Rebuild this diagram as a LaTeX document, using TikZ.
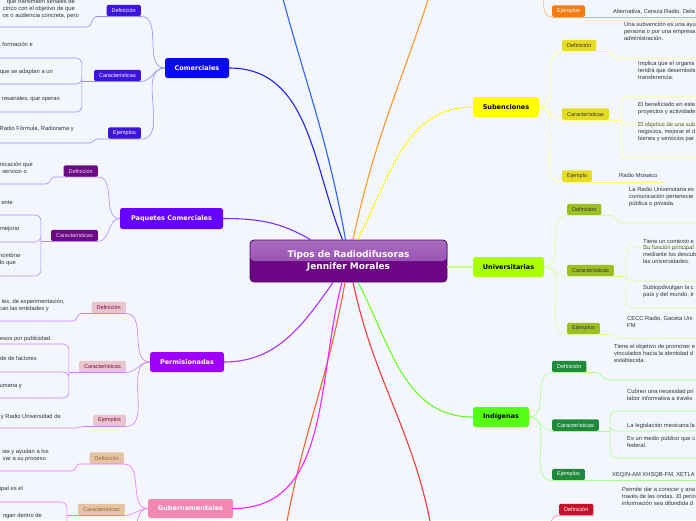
\documentclass[tikz,border=0pt]{standalone}
\usepackage{fontspec}
\setmainfont{Liberation Sans}
\newfontfamily\dejavu{DejaVu Sans}
\usepackage{tikz}
\usetikzlibrary{positioning}
\usepackage{xcolor}

\definecolor{bgblue}{HTML}{F3F6FD}
\definecolor{notegray}{HTML}{333333}
\definecolor{rootdark}{HTML}{6C0684}
\definecolor{roottop}{HTML}{A86CC0}
\definecolor{rootmid}{HTML}{8C3CA8}
\definecolor{rootedge}{HTML}{4C0A60}
% branch fills
\definecolor{comblue}{HTML}{0A0AEE}
\definecolor{paqviolet}{HTML}{6600FF}
\definecolor{perpurple}{HTML}{A000F8}
\definecolor{gubpink}{HTML}{F288B0}
\definecolor{subyellow}{HTML}{FFFF00}
\definecolor{unilime}{HTML}{AAFF00}
\definecolor{indgreen}{HTML}{55FF11}
% trunk lines
\definecolor{comline}{HTML}{2222EE}
\definecolor{topblue}{HTML}{2A64FF}
\definecolor{orline}{HTML}{FF9A28}
\definecolor{subline}{HTML}{FFFF22}
\definecolor{uniline}{HTML}{CCFF77}
\definecolor{indline}{HTML}{66FF22}
\definecolor{redline}{HTML}{F03C3C}
\definecolor{orredline}{HTML}{FF6030}
\definecolor{gubline}{HTML}{FF22FF}
\definecolor{perline}{HTML}{AA33FF}
\definecolor{paqline}{HTML}{7A33FF}
% leaf fills
\definecolor{comleaf}{HTML}{3C14DC}
\definecolor{paqleaf}{HTML}{6C0A84}
\definecolor{perleaf}{HTML}{E8C6CC}
\definecolor{gubleaf}{HTML}{E4C4A4}
\definecolor{subleaf}{HTML}{E6DC22}
\definecolor{unileaf}{HTML}{9DBF24}
\definecolor{indleaf}{HTML}{1F8A3C}
\definecolor{orleaf}{HTML}{F07C12}
\definecolor{redleaf}{HTML}{C4102A}
% twig lines
\definecolor{comtwig}{HTML}{8F8FFF}
\definecolor{paqtwig}{HTML}{B08CFF}
\definecolor{pertwig}{HTML}{CC80FF}
\definecolor{gubtwig}{HTML}{F070FF}
\definecolor{subtwig}{HTML}{FFFF80}
\definecolor{unitwig}{HTML}{D8FF90}
\definecolor{indtwig}{HTML}{A8FF80}
\definecolor{ortwig}{HTML}{FFB060}
\definecolor{redtwig}{HTML}{FF8A9A}

\tikzset{
  rootbox/.style={rounded corners=4pt, fill=rootdark, draw=rootedge, line width=0.8pt,
    text=white, font=\dejavu\bfseries\fontsize{9}{12}\selectfont, align=center,
    minimum width=197pt, minimum height=42pt, inner sep=0pt,
    path picture={\fill[top color=roottop, bottom color=rootmid]
      (path picture bounding box.north west) rectangle (path picture bounding box.east);}},
  branch/.style={rounded corners=2.5pt, text=white, inner sep=0pt, minimum height=20pt,
    font=\dejavu\bfseries\fontsize{6.5}{7}\selectfont},
  leaf/.style={rounded corners=1.5pt, inner xsep=5pt, inner ysep=0pt, minimum height=11.5pt,
    font=\fontsize{5.5}{6}\selectfont},
  note/.style={inner sep=0pt, align=left, text=notegray, font=\fontsize{5.8}{7}\selectfont},
  trunk/.style={line width=1.1pt},
  twig/.style={line width=0.6pt}
}

\begin{document}
\begin{tikzpicture}[x=1pt,y=-1pt]
    \useasboundingbox (0,0) rectangle (696,520);
    \fill[bgblue] (0,0) rectangle (696,520);

    % centre and main branches
    \node[rootbox] (root) at (348.5,261) {Tipos de Radiodifusoras\\Jennifer Morales};
    \node[branch, fill=comblue, minimum width=64pt] (com) at (197,68) {Comerciales};
    \node[branch, fill=paqviolet, minimum width=103pt, minimum height=21pt] (paq) at (171.5,218.5) {Paquetes Comerciales};
    \node[branch, fill=perpurple, minimum width=74pt] (per) at (187,362) {Permisionadas};
    \node[branch, fill=gubpink, minimum width=85pt, minimum height=19pt] (gub) at (190.5,508.5) {Gubernamentales};
    \node[branch, fill=subyellow, text=black, minimum width=66pt] (sub) at (506,107) {Subenciones};
    \node[branch, fill=unilime, text=black, minimum width=71pt] (uni) at (508.5,267) {Universitarias};
    \node[branch, fill=indgreen, text=black, minimum width=56pt] (ind) at (501,417) {Indígenas};

    % free ends of branches leaving the page
    \coordinate (bluetop) at (280,-12);
    \coordinate (orangetop) at (432,-12);
    \coordinate (redbot) at (432,532);
    \coordinate (orredbot) at (285,532);
    \coordinate (orpar) at (544,-10);
    \coordinate (redpar) at (549,535);
    \coordinate (gubmore) at (125,545);

    % leaves, left side
    \node[leaf, fill=comleaf, text=white, anchor=east] (comdef) at (141,10.5) {Definición};
    \node[leaf, fill=comleaf, text=white, anchor=east] (comcar) at (141,75.5) {Características};
    \node[leaf, fill=comleaf, text=white, anchor=east] (comej) at (141,133) {Ejemplos};
    \node[leaf, fill=paqleaf, text=white!85!violet, anchor=east] (paqdef) at (98,171) {Definición};
    \node[leaf, fill=paqleaf, text=white!85!violet, anchor=east] (paqcar) at (98,235.5) {Características};
    \node[leaf, fill=perleaf, text=rootedge!70!red, anchor=east] (perdef) at (126,307.5) {Definición};
    \node[leaf, fill=perleaf, text=rootedge!70!red, anchor=east] (percar) at (126,366.5) {Características};
    \node[leaf, fill=perleaf, text=rootedge!70!red, anchor=east] (perej) at (126,420.5) {Ejemplos};
    \node[leaf, fill=gubleaf, text=brown!80!black, anchor=east] (gubdef) at (124,458) {Definición};
    \node[leaf, fill=gubleaf, text=brown!80!black, anchor=east] (gubcar) at (125,509.5) {Características};

    % leaves, right side
    \node[leaf, fill=orleaf, text=white, anchor=west] (orej) at (552,11) {Ejemplos};
    \node[leaf, fill=subleaf, text=notegray, anchor=west] (subdef) at (562,45.5) {Definición};
    \node[leaf, fill=subleaf, text=notegray, anchor=west] (subcar) at (562,114) {Características};
    \node[leaf, fill=subleaf, text=notegray, anchor=west] (subej) at (562,176) {Ejemplo};
    \node[leaf, fill=unileaf, text=notegray, anchor=west] (unidef) at (567,209.5) {Definición};
    \node[leaf, fill=unileaf, text=notegray, anchor=west] (unicar) at (567,270.5) {Características};
    \node[leaf, fill=unileaf, text=notegray, anchor=west] (uniej) at (567,328.5) {Ejemplos};
    \node[leaf, fill=indleaf, text=white, anchor=west] (inddef) at (552,366.5) {Definición};
    \node[leaf, fill=indleaf, text=white, anchor=west] (indcar) at (552,425) {Características};
    \node[leaf, fill=indleaf, text=white, anchor=west] (indej) at (552,474.5) {Ejemplos};
    \node[leaf, fill=redleaf, text=white, anchor=west] (reddef) at (559,509.5) {Definición};

    % notes, left side (cut by the page edge)
    \node[note, anchor=base east] (comdefa) at (75,3) {que transmiten señales de};
    \node[note, anchor=base east] (comdefb) at (75,10) {ctrico con el objetivo de que};
    \node[note, anchor=base east] (comdefc) at (79,17) {os o audiencia concreta, pero};
    \node[note, anchor=base east] (comcara) at (33,46) {, formación e};
    \node[note, anchor=base east] (comcarb) at (53,73) {que se adaptan a un};
    \node[note, anchor=base east] (comcarc) at (60,100) {resariales, que operan};
    \node[note, anchor=base east] (comeja) at (74,130) {Radio Fórmula, Radiorama y};
    \node[note, anchor=base east] (paqdefa) at (33,166) {nicación que};
    \node[note, anchor=base east] (paqdefb) at (27,173) {servicio o};
    \node[note, anchor=base east] (paqcara) at (13,204) {ente};
    \node[note, anchor=base east] (paqcarb) at (20,230) {mejorar};
    \node[note, anchor=base east] (paqcarc) at (21,257) {nombrar};
    \node[note, anchor=base east] (paqcard) at (16,264) {do que};
    \node[note, anchor=base east] (perdefa) at (65,303) {les, de experimentación,};
    \node[note, anchor=base east] (perdefb) at (49,310) {can las entidades y};
    \node[note, anchor=base east] (percara) at (52,340) {esos por publicidad.};
    \node[note, anchor=base east] (percarb) at (37,360) {de de factores};
    \node[note, anchor=base east] (percarc) at (22,387) {umana y};
    \node[note, anchor=base east] (pereja) at (61,418) {s y Radio Universidad de};
    \node[note, anchor=base east] (gubdefa) at (49,453) {ias y ayudan a los};
    \node[note, anchor=base east] (gubdefb) at (46,460) {var a su proceso};
    \node[note, anchor=base east] (gubcara) at (23,490) {ipal es el};
    \node[note, anchor=base east] (gubcarb) at (42,517) {ngan dentro de};

    % notes, right side
    \node[note, anchor=base west] (orejt) at (613,13) {Alternativa, Cereza Radio. Dela};
    \node[note, anchor=base west] (subdeft) at (624,40) {Una subvención es una ayu\\persona o por una empresa\\administración.};
    \node[note, anchor=base west] (subcart1) at (638,79) {Implica que el organis\\tendrá que desembols\\transferencia.};
    \node[note, anchor=base west] (subcart2) at (638,113) {El beneficiado en este\\proyectos y actividade};
    \node[note, anchor=base west] (subcart3) at (638,140) {El objetivo de una sub\\negocios, mejorar el d\\bienes y servicios par};
    \node[note, anchor=base west] (subejt) at (619,177) {Radio Mosaico};
    \node[note, anchor=base west] (unideft) at (629,205) {La Radio Universitaria es\\comunicación pertenecie\\pública o privada.};
    \node[note, anchor=base west] (unicart1) at (643,243) {Tiene un contexto e};
    \node[note, anchor=base west] (unicart2) at (643,263) {Su función principal\\mediante los descub\\las universidades.};
    \node[note, anchor=base west] (unicart3) at (643,296) {Subtopdivulgan la c\\país y del mundo, tr};
    \node[note, anchor=base west] (uniejt) at (627,327) {CECC Radio, Gaceta Uni\\FM};
    \node[note, anchor=base west] (inddeft) at (614,362) {Tiene el objetivo de promover e\\vinculados hacia la identidad d\\establecida.};
    \node[note, anchor=base west] (indcart1) at (627,400) {Cubren una necesidad pri\\labor informativa a través};
    \node[note, anchor=base west] (indcart2) at (627,427) {La legislación mexicana la};
    \node[note, anchor=base west] (indcart3) at (627,447) {Es un medio público que c\\federal.};
    \node[note, anchor=base west] (indejt) at (612,476) {XEQIN-AM XHSQB-FM, XETLA};
    \node[note, anchor=base west] (reddeft) at (622,505) {Permite dar a conocer y ana\\través de las ondas. El perio\\información sea difundida d};

    % underline ends
    \coordinate (comdefend) at (0,27);
    \coordinate (comcar1) at (0,58);
    \coordinate (comcar2) at (0,84);
    \coordinate (comcar3) at (0,112);
    \coordinate (comejend) at (0,143);
    \coordinate (paqdefend) at (0,184);
    \coordinate (paqcar1) at (0,215);
    \coordinate (paqcar2) at (0,242);
    \coordinate (paqcar3) at (0,276);
    \coordinate (perdefend) at (0,321);
    \coordinate (percar1) at (0,344);
    \coordinate (percar2) at (0,372);
    \coordinate (percar3) at (0,398);
    \coordinate (perejend) at (0,428);
    \coordinate (gubdefend) at (0,471);
    \coordinate (gubcar1) at (0,502);
    \coordinate (gubcar2) at (0,530);
    \coordinate (orejend) at (696,17);
    \coordinate (subdefend) at (696,58);
    \coordinate (subcar1) at (696,97);
    \coordinate (subcar2) at (696,124);
    \coordinate (subcar3) at (696,158);
    \coordinate (subejend) at (663,182);
    \coordinate (unidefend) at (696,223);
    \coordinate (unicar1) at (696,247);
    \coordinate (unicar2) at (696,281);
    \coordinate (unicar3) at (696,308);
    \coordinate (uniejend) at (696,338);
    \coordinate (inddefend) at (696,380);
    \coordinate (indcar1) at (696,411);
    \coordinate (indcar2) at (696,431);
    \coordinate (indcar3) at (696,458);
    \coordinate (indejend) at (696,481);

    % main branches
    \draw[trunk, paqline] ([xshift=-38pt]root.north) to[out=150,in=0] (paq.east);
    \draw[trunk, comline] ([xshift=-6pt]root.north) to[out=112,in=0] (com.east);
    \draw[trunk, topblue] ([xshift=-3pt]root.north) to[out=100,in=-75] (bluetop);
    \draw[trunk, orline] ([xshift=4.5pt]root.north) to[out=78,in=-108] (orangetop);
    \draw[trunk, subline] ([xshift=9pt]root.north) to[out=62,in=180] (sub.west);
    \draw[trunk, uniline] (root.east |- uni.west) -- (uni.west);
    \draw[trunk, indline] ([xshift=9.5pt]root.south) to[out=-62,in=180] (ind.west);
    \draw[trunk, redline] ([xshift=4.5pt]root.south) to[out=-78,in=100] (redbot);
    \draw[trunk, orredline] ([xshift=-3.5pt]root.south) to[out=-100,in=80] (orredbot);
    \draw[trunk, gubline] ([xshift=-6.5pt]root.south) to[out=-105,in=0] (gub.east);
    \draw[trunk, perline] ([xshift=-15.5pt]root.south) to[out=-125,in=0] (per.east);

    % Comerciales
    \draw[twig, comtwig] (com.west) to[out=180,in=0] (comdef.south east);
    \draw[twig, comtwig] (com.west) to[out=180,in=0] (comcar.south east);
    \draw[twig, comtwig] (com.west) to[out=180,in=0] (comej.south east);
    \draw[twig, comtwig] (comdef.south east) -- (comdef.south west) -- ++(-10,0)
        to[out=180,in=0] ([xshift=87pt]comdefend) -- (comdefend);
    \draw[twig, comtwig] (comcar.south east) -- ([xshift=-12pt]comcar.south west) coordinate (comcarj);
    \draw[twig, comtwig, rounded corners=6pt] (comcarj) |- (comcar1) (comcarj) |- (comcar2) (comcarj) |- (comcar3);
    \draw[twig, comtwig] (comej.south east) -- (comej.south west) -- ++(-10,0)
        to[out=180,in=0] ([xshift=89pt]comejend) -- (comejend);

    % Paquetes Comerciales
    \draw[twig, paqtwig] (paq.west) to[out=180,in=0] (paqdef.south east);
    \draw[twig, paqtwig] (paq.west) to[out=180,in=0] (paqcar.south east);
    \draw[twig, paqtwig] (paqdef.south east) -- (paqdef.south west) -- ++(-9,0)
        to[out=180,in=0] ([xshift=46pt]paqdefend) -- (paqdefend);
    \draw[twig, paqtwig] (paqcar.south east) -- ([xshift=-10pt]paqcar.south west) coordinate (paqcarj);
    \draw[twig, paqtwig, rounded corners=6pt] (paqcarj) |- (paqcar1) (paqcarj) |- (paqcar2) (paqcarj) |- (paqcar3);

    % Permisionadas
    \draw[twig, pertwig] (per.west) to[out=180,in=0] (perdef.south east);
    \draw[twig, pertwig] (per.west) to[out=180,in=0] (percar.south east);
    \draw[twig, pertwig] (per.west) to[out=180,in=0] (perej.south east);
    \draw[twig, pertwig] (perdef.south east) -- (perdef.south west) -- ++(-10,0)
        to[out=180,in=0] ([xshift=73pt]perdefend) -- (perdefend);
    \draw[twig, pertwig] (percar.south east) -- ([xshift=-10pt]percar.south west) coordinate (percarj);
    \draw[twig, pertwig, rounded corners=6pt] (percarj) |- (percar1) (percarj) |- (percar2) (percarj) |- (percar3);
    \draw[twig, pertwig] (perej.south east) -- (perej.south west) -- ++(-10,0)
        to[out=180,in=0] ([xshift=76pt]perejend) -- (perejend);

    % Gubernamentales
    \draw[twig, gubtwig] (gub.west) to[out=180,in=0] (gubdef.south east);
    \draw[twig, gubtwig] (gub.west) to[out=180,in=0] (gubcar.south east);
    \draw[twig, gubtwig] (gub.west) to[out=180,in=0] (gubmore);
    \draw[twig, gubtwig] (gubdef.south east) -- (gubdef.south west) -- ++(-10,0)
        to[out=180,in=0] ([xshift=72pt]gubdefend) -- (gubdefend);
    \draw[twig, gubtwig] (gubcar.south east) -- ([xshift=-11pt]gubcar.south west) coordinate (gubcarj);
    \draw[twig, gubtwig, rounded corners=6pt] (gubcarj) |- (gubcar1) (gubcarj) |- (gubcar2);

    % top orange branch
    \draw[twig, ortwig] (orpar) to[out=-90,in=180] (orej.south west);
    \draw[twig, ortwig] (orej.south west) -- (orej.south east) -- (orej.south east -| orejend);

    % Subenciones
    \draw[twig, subtwig] (sub.east) to[out=0,in=180] (subdef.south west);
    \draw[twig, subtwig] (sub.east) to[out=0,in=180] (subcar.south west);
    \draw[twig, subtwig] (sub.east) to[out=0,in=180] (subej.south west);
    \draw[twig, subtwig] (subdef.south west) -- (subdef.south east) -- ++(10,0)
        to[out=0,in=180] ([xshift=-78pt]subdefend) -- (subdefend);
    \draw[twig, subtwig] (subcar.south west) -- ([xshift=12pt]subcar.south east) coordinate (subcarj);
    \draw[twig, subtwig, rounded corners=6pt] (subcarj) |- (subcar1) (subcarj) |- (subcar2) (subcarj) |- (subcar3);
    \draw[twig, subtwig] (subej.south west) -- (subej.south east -| subejend);

    % Universitarias
    \draw[twig, unitwig] (uni.east) to[out=0,in=180] (unidef.south west);
    \draw[twig, unitwig] (uni.east) to[out=0,in=180] (unicar.south west);
    \draw[twig, unitwig] (uni.east) to[out=0,in=180] (uniej.south west);
    \draw[twig, unitwig] (unidef.south west) -- (unidef.south east) -- ++(10,0)
        to[out=0,in=180] ([xshift=-74pt]unidefend) -- (unidefend);
    \draw[twig, unitwig] (unicar.south west) -- ([xshift=12pt]unicar.south east) coordinate (unicarj);
    \draw[twig, unitwig, rounded corners=6pt] (unicarj) |- (unicar1) (unicarj) |- (unicar2) (unicarj) |- (unicar3);
    \draw[twig, unitwig] (uniej.south west) -- (uniej.south east) -- ++(9,0)
        to[out=0,in=180] ([xshift=-78pt]uniejend) -- (uniejend);

    % Indigenas
    \draw[twig, indtwig] (ind.east) to[out=0,in=180] (inddef.south west);
    \draw[twig, indtwig] (ind.east) to[out=0,in=180] (indcar.south west);
    \draw[twig, indtwig] (ind.east) to[out=0,in=180] (indej.south west);
    \draw[twig, indtwig] (inddef.south west) -- (inddef.south east) -- ++(10,0)
        to[out=0,in=180] ([xshift=-88pt]inddefend) -- (inddefend);
    \draw[twig, indtwig] (indcar.south west) -- ([xshift=11pt]indcar.south east) coordinate (indcarj);
    \draw[twig, indtwig, rounded corners=6pt] (indcarj) |- (indcar1) (indcarj) |- (indcar2) (indcarj) |- (indcar3);
    \draw[twig, indtwig] (indej.south west) -- (indej.south east -| indejend);

    % bottom red branch
    \draw[twig, redtwig] (redpar) to[out=90,in=180] (reddef.south west);
    \draw[twig, redtwig] (reddef.south west) -- (reddef.south east);
\end{tikzpicture}
\end{document}
